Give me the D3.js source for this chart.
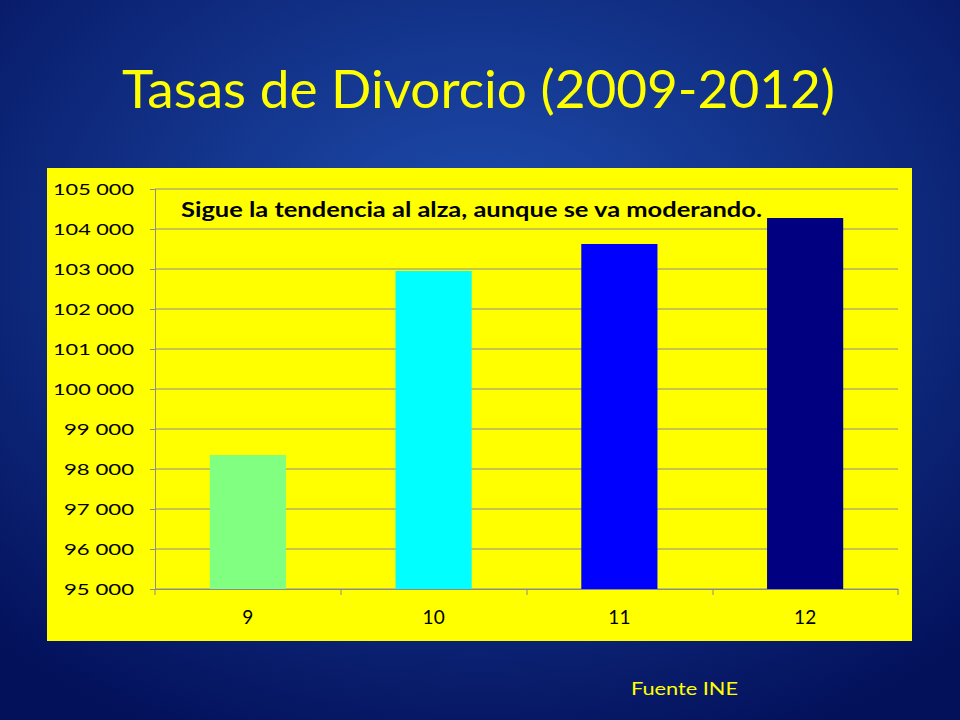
<!DOCTYPE html>
<html><head><meta charset="utf-8">
<script src="https://cdn.jsdelivr.net/npm/d3@7"></script>
<style>body{margin:0;}svg{display:block;}</style>
</head><body>
<script>
const categories = ["9","10","11","12"];
const values = [98350, 102950, 103625, 104275];
const colors = ["#80ff80","#00ffff","#0000ff","#000080"];
const yTicks = [95000,96000,97000,98000,99000,100000,101000,102000,103000,104000,105000];

const W=960,H=720;
const F="Lato, 'Open Sans', sans-serif";
const svg=d3.select("body").append("svg").attr("width",W).attr("height",H);
const defs=svg.append("defs");
const g=defs.append("radialGradient").attr("id","bg").attr("cx","50%").attr("cy","35%").attr("r","75%");
g.append("stop").attr("offset","0%").attr("stop-color","#1f4fb0");
g.append("stop").attr("offset","100%").attr("stop-color","#03105a");
svg.append("rect").attr("width",W).attr("height",H).attr("fill","url(#bg)");

svg.append("text").attr("x",122).attr("y",108)
 .attr("font-family",F).attr("font-size",52).attr("fill","#ffff00")
 .attr("textLength",713).attr("lengthAdjust","spacingAndGlyphs")
 .text("Tasas de Divorcio (2009-2012)");

svg.append("rect").attr("x",47).attr("y",168).attr("width",865).attr("height",473).attr("fill","#ffff00");

const x=d3.scaleBand().domain(categories).range([155,898]).paddingInner(0.59).paddingOuter(0.295);
const y=d3.scaleLinear().domain([95000,105000]).range([589,189]);
const fmt=d=>d3.format(",")(d).replace(/,/g," ");

svg.append("g").selectAll("line").data(yTicks).join("line")
 .attr("x1",155).attr("x2",898).attr("y1",d=>y(d)).attr("y2",d=>y(d))
 .attr("stroke","#8c8c8c").attr("stroke-width",1);

svg.selectAll("rect.bar").data(values).join("rect").attr("class","bar")
 .attr("x",(d,i)=>x(categories[i])).attr("width",x.bandwidth())
 .attr("y",d=>y(d)).attr("height",d=>589-y(d)).attr("fill",(d,i)=>colors[i]);

const ya=svg.append("g").attr("transform","translate(155,0)")
 .call(d3.axisLeft(y).tickValues(yTicks).tickFormat(fmt).tickSize(5).tickPadding(16));
ya.select(".domain").attr("stroke","#8c8c8c");
ya.selectAll(".tick line").attr("stroke","#8c8c8c");
ya.selectAll("text").attr("font-family",F).attr("font-size",16).attr("fill","#000")
 .attr("textLength",d=>d>=100000?81:70).attr("lengthAdjust","spacingAndGlyphs");

const xOuter=d3.scaleBand().domain(categories).range([155,898]);
const xa=svg.append("g").attr("transform","translate(0,589)")
 .call(d3.axisBottom(xOuter).tickSize(0).tickPadding(22));
xa.select(".domain").attr("stroke","#8c8c8c");
xa.selectAll("text").attr("font-family",F).attr("font-size",19).attr("fill","#000");
svg.append("g").selectAll("line").data([155,341,527,713,898]).join("line")
 .attr("x1",d=>d).attr("x2",d=>d).attr("y1",589).attr("y2",595).attr("stroke","#8c8c8c");

svg.append("text").attr("x",181).attr("y",217).attr("font-family",F)
 .attr("font-weight","bold").attr("font-size",20).attr("fill","#000")
 .attr("textLength",581).attr("lengthAdjust","spacingAndGlyphs")
 .text("Sigue la tendencia al alza, aunque se va moderando.");

svg.append("text").attr("x",631).attr("y",695).attr("font-family",F)
 .attr("font-size",18).attr("fill","#ffff00")
 .attr("textLength",107).attr("lengthAdjust","spacingAndGlyphs").text("Fuente INE");
</script>
</body></html>
